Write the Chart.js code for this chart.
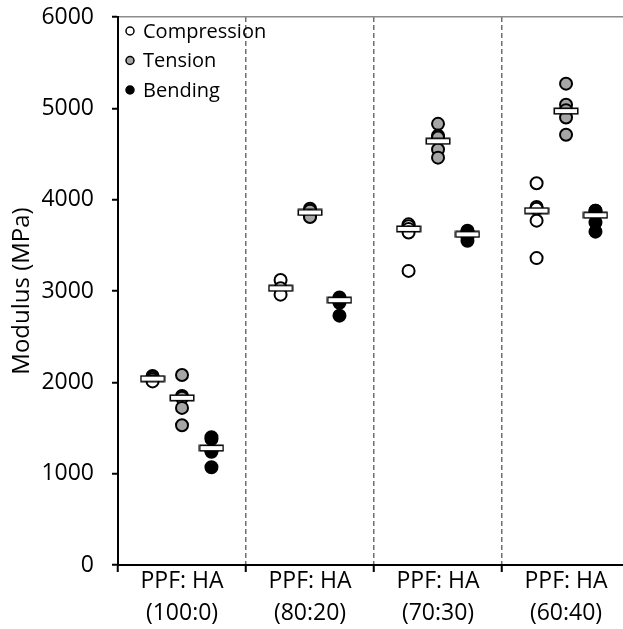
<!DOCTYPE html>
<html><head><meta charset="utf-8">
<script src="https://cdn.jsdelivr.net/npm/chart.js@4/dist/chart.umd.min.js"></script>
<style>html,body{margin:0;padding:0;background:#fff;overflow:hidden}</style>
</head><body>
<canvas id="c" width="623" height="629"></canvas>
<script>
const categories = [['PPF: HA','(100:0)'],['PPF: HA','(80:20)'],['PPF: HA','(70:30)'],['PPF: HA','(60:40)']];
const seriesNames = ['Compression','Tension','Bending'];
const compression = [[2070,2050,2030,2010],[3120,3030,2960],[3730,3710,3680,3640,3220],[4180,3920,3900,3770,3360]];
const tension = [[2080,1850,1830,1720,1530],[3900,3880,3820,3810],[4830,4700,4680,4550,4460],[5270,5040,4980,4900,4710]];
const bending = [[1400,1380,1250,1240,1070],[2930,2910,2870,2730],[3660,3650,3620,3590,3550],[3880,3880,3750,3650]];
const compressionMean = [2040,3030,3680,3880];
const tensionMean = [1830,3860,4640,4970];
const bendingMean = [1280,2900,3620,3830];
const yTicks = [0,1000,2000,3000,4000,5000,6000];

const FONT = '"Open Sans", "DejaVu Sans", sans-serif';
const offsets = [-0.23, 0, 0.23];
const fills = ['#ffffff', '#a6a6a6', '#000000'];

function toPoints(groups, s){
  const out = [];
  groups.forEach((vals, i) => vals.forEach(v => out.push({x: i + 1 + offsets[s], y: v})));
  return out;
}
function meanPoints(){
  const out = [];
  [compressionMean, tensionMean, bendingMean].forEach((arr, s) =>
    arr.forEach((v, i) => out.push({x: i + 1 + offsets[s], y: v})));
  return out;
}
// mean marker style: white bar with black outline
const bar = document.createElement('canvas');
bar.width = 26; bar.height = 8;
(function(){
  const g = bar.getContext('2d');
  g.fillStyle = '#fff'; g.fillRect(1,1,24,6);
  g.strokeStyle = '#000'; g.lineWidth = 1.5; g.strokeRect(1.25,1.25,23.5,5.5);
})();

const datasets = [compression, tension, bending].map((g, s) => ({
  label: seriesNames[s],
  data: toPoints(g, s),
  backgroundColor: fills[s],
  borderColor: '#000',
  borderWidth: 2,
  pointRadius: 6,
  order: 1
}));
datasets.push({
  label: 'Mean',
  data: meanPoints(),
  pointStyle: bar,
  pointRadius: 13,
  order: 0
});

const insideLegend = {
  id: 'insideLegend',
  afterDraw(chart){
    const ctx = chart.ctx, a = chart.chartArea;
    chart.data.datasets.slice(0,3).forEach((ds, i) => {
      const x = a.left + 12, y = a.top + 14 + i * 29.5;
      ctx.save();
      ctx.beginPath(); ctx.arc(x, y, 4, 0, Math.PI*2);
      ctx.fillStyle = ds.backgroundColor; ctx.fill();
      ctx.lineWidth = 1.5; ctx.strokeStyle = '#000'; ctx.stroke();
      ctx.fillStyle = '#000'; ctx.font = '20px ' + FONT;
      ctx.textBaseline = 'middle'; ctx.textAlign = 'left';
      ctx.fillText(ds.label, x + 13, y + 1);
      ctx.restore();
    });
  }
};

new Chart(document.getElementById('c'), {
  type: 'scatter',
  data: { datasets },
  plugins: [insideLegend],
  options: {
    responsive: false,
    animation: false,
    layout: { autoPadding: false, padding: { top: 17, left: 8, right: 0, bottom: 0 } },
    plugins: { legend: { display: false }, tooltip: { enabled: false } },
    scales: {
      x: {
        type: 'linear', min: 0.5, max: 4.445,
        afterBuildTicks: ax => { ax.ticks = [0.5,1,1.5,2,2.5,3,3.5,4].map(v => ({value: v})); },
        afterFit: ax => { ax.paddingLeft = 0; ax.paddingRight = 0; ax.height = 64; },
        ticks: {
          autoSkip: false, maxRotation: 0, padding: -7, color: '#000',
          font: { family: FONT, size: 23, lineHeight: 1.39 },
          callback: v => Number.isInteger(v) ? categories[v-1] : ''
        },
        grid: {
          color: c => (c.tick && c.tick.value % 1 !== 0 && c.tick.value > 0.6) ? '#6e6e6e' : 'rgba(0,0,0,0)',
          tickColor: c => (c.tick && c.tick.value % 1 !== 0) ? '#000' : 'rgba(0,0,0,0)',
          lineWidth: 1.5, tickWidth: 2, tickLength: 7
        },
        border: { color: '#000', width: 2, dash: [5,3] }
      },
      y: {
        min: 0, max: 6000,
        afterBuildTicks: ax => { ax.ticks = yTicks.map(v => ({value: v})); },
        afterFit: ax => { ax.paddingTop = 0; ax.paddingBottom = 0; ax.width = 110; },
        ticks: { color: '#000', padding: 18, font: { family: FONT, size: 23 }, callback: v => String(v) },
        grid: {
          color: c => (c.tick && c.tick.value === 6000) ? '#8c8c8c' : 'rgba(0,0,0,0)',
          tickColor: '#000', lineWidth: 1.5, tickWidth: 2, tickLength: 6
        },
        border: { color: '#000', width: 2 },
        title: { display: true, text: 'Modulus (MPa)', color: '#000', font: { family: FONT, size: 24 }, padding: { top: 0, bottom: 2 } }
      }
    }
  }
});
</script>
</body></html>
